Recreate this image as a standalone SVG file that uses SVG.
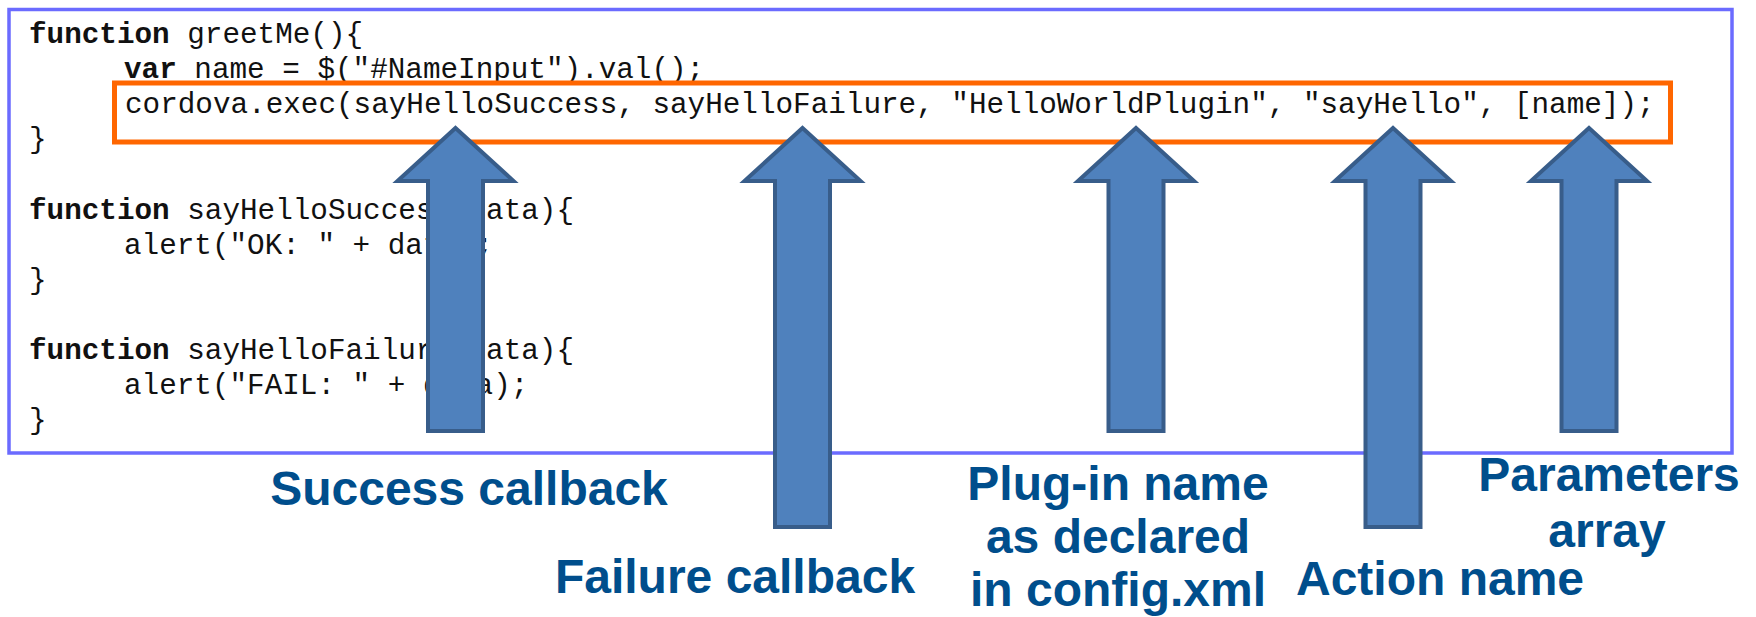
<svg xmlns="http://www.w3.org/2000/svg" width="1756" height="617" viewBox="0 0 1756 617">
  <style>
    .code { font-family: "Liberation Mono", "Courier New", monospace; font-size: 29.3px; fill: #111; }
    .kw { font-weight: bold; }
    .label { font-family: "Liberation Sans", Arial, sans-serif; font-weight: bold; font-size: 48px; fill: #004E8C; text-anchor: middle; }
    .arrow { fill: #4F81BD; stroke: #385D8A; stroke-width: 4; stroke-linejoin: miter; }
  </style>

  <rect width="1756" height="617" fill="#FFFFFF"/>

  <!-- source listing -->
  <g id="code-block">
    <rect x="9" y="9.5" width="1723" height="443.5" fill="#FFFFFF" stroke="#6B6BFF" stroke-width="3.5"/>
    <text class="code" x="29" y="43"><tspan class="kw">function</tspan> greetMe(){</text>
    <text class="code" x="124" y="78.1"><tspan class="kw">var</tspan> name = $("#NameInput").val();</text>
    <text class="code" x="125" y="113.2">cordova.exec(sayHelloSuccess, sayHelloFailure, "HelloWorldPlugin", "sayHello", [name]);</text>
    <text class="code" x="29" y="148.3">}</text>
    <text class="code" x="29" y="218.5"><tspan class="kw">function</tspan> sayHelloSuccess(data){</text>
    <text class="code" x="124" y="253.6">alert("OK: " + data);</text>
    <text class="code" x="29" y="288.7">}</text>
    <text class="code" x="29" y="358.9"><tspan class="kw">function</tspan> sayHelloFailure(data){</text>
    <text class="code" x="124" y="394">alert("FAIL: " + data);</text>
    <text class="code" x="29" y="429.1">}</text>
  </g>

  <!-- highlight around the exec call -->
  <g id="exec-call">
    <rect x="114.5" y="83" width="1556" height="59" fill="none" stroke="#FF6600" stroke-width="5"/>
  </g>

  <!-- block arrows pointing at each argument -->
  <g id="connectors">
    <path class="arrow" d="M455.5,128 L513.5,181 L483,181 L483,431 L428,431 L428,181 L397.5,181 Z"/>
    <path class="arrow" d="M802.5,128 L860.5,181 L830,181 L830,527 L775,527 L775,181 L744.5,181 Z"/>
    <path class="arrow" d="M1136,128 L1194,181 L1163.5,181 L1163.5,431 L1108.5,431 L1108.5,181 L1078,181 Z"/>
    <path class="arrow" d="M1393,128 L1451,181 L1420.5,181 L1420.5,527 L1365.5,527 L1365.5,181 L1335,181 Z"/>
    <path class="arrow" d="M1589,128 L1647,181 L1616.5,181 L1616.5,431 L1561.5,431 L1561.5,181 L1531,181 Z"/>
  </g>

  <!-- captions -->
  <g id="success-callback">
    <text class="label" x="469" y="505">Success callback</text>
  </g>
  <g id="failure-callback">
    <text class="label" x="735" y="593">Failure callback</text>
  </g>
  <g id="plugin-name">
    <text class="label" x="1118" y="499.5">Plug-in name</text>
    <text class="label" x="1118" y="553">as declared</text>
    <text class="label" x="1118" y="606">in config.xml</text>
  </g>
  <g id="action-name">
    <text class="label" x="1440" y="595">Action name</text>
  </g>
  <g id="parameters-array">
    <text class="label" x="1609" y="491">Parameters</text>
    <text class="label" x="1607" y="547">array</text>
  </g>
</svg>
